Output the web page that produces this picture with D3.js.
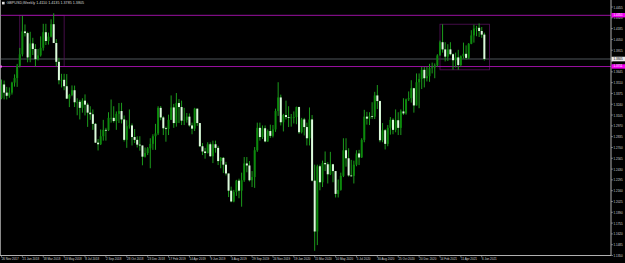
<!DOCTYPE html>
<html><head><meta charset="utf-8">
<script src="https://cdn.jsdelivr.net/npm/d3@7"></script>
<style>html,body{margin:0;padding:0;background:#000;overflow:hidden}</style>
</head><body>
<svg id="c" width="625" height="263"></svg>
<script>
const symbol = "GBPUSD,Weekly";
const firstWeek = "2017-11-26";
const opens = [
1.3320,1.3487,1.3385,1.3346,1.3385,1.3510,1.3567,1.3720,1.3864,1.4150,
1.4129,1.3825,1.4000,1.3930,1.3803,1.3850,1.3945,1.4140,1.4030,1.4085,
1.4240,1.4005,1.3770,1.3540,1.3545,1.3465,1.3310,1.3355,1.3415,1.3265,
1.3270,1.3195,1.3285,1.3235,1.3135,1.3115,1.2995,1.2760,1.2740,1.2840,
1.2920,1.2915,1.3070,1.3070,1.3030,1.3120,1.3155,1.3050,1.2795,1.2965,
1.2975,1.2830,1.2795,1.2735,1.2725,1.2585,1.2630,1.2690,1.2745,1.2840,
1.2875,1.3195,1.3075,1.2940,1.2930,1.3045,1.3200,1.3005,1.3255,1.3205,
1.3035,1.3045,1.3085,1.2975,1.2935,1.3185,1.3005,1.2715,1.2650,1.2630,
1.2740,1.2590,1.2740,1.2695,1.2530,1.2570,1.2485,1.2375,1.2160,1.2025,
1.2145,1.2285,1.2160,1.2290,1.2500,1.2475,1.2290,1.2330,1.2665,1.2945,
1.2830,1.2940,1.2775,1.2905,1.2845,1.2925,1.3155,1.3325,1.3015,1.3105,
1.3080,1.3070,1.3075,1.3080,1.3205,1.2890,1.3050,1.2955,1.2815,1.3050,
1.2285,1.1650,1.2465,1.2265,1.2505,1.2490,1.2365,1.2490,1.2405,1.2120,
1.2170,1.2345,1.2665,1.2565,1.2350,1.2345,1.2485,1.2625,1.2575,1.2795,
1.3085,1.3060,1.3090,1.3085,1.3350,1.3280,1.2790,1.2915,1.2745,1.2945,
1.3045,1.2920,1.3040,1.2945,1.3150,1.3125,1.3300,1.3315,1.3440,1.3225,
1.3515,1.3555,1.3670,1.3565,1.3590,1.3690,1.3700,1.3725,1.3850,1.4015,
1.3925,1.3835,1.3925,1.3865,1.3790,1.3825,1.3730,1.3840,1.3870,1.3820,
1.3995,1.4100,1.4185,1.4195,1.4155,1.4110];
const highs = [
1.3549,1.3536,1.3457,1.3450,1.3521,1.3613,1.3744,1.3944,1.4345,1.4237,
1.4145,1.4145,1.4070,1.3990,1.3930,1.4088,1.4245,1.4245,1.4135,1.4301,
1.4377,1.4055,1.3820,1.3620,1.3620,1.3617,1.3370,1.3475,1.3473,1.3315,
1.3295,1.3315,1.3363,1.3258,1.3215,1.3175,1.3005,1.2805,1.2925,1.3045,
1.2945,1.3140,1.3299,1.3215,1.3150,1.3255,1.3258,1.3100,1.3040,1.3175,
1.3000,1.2930,1.2840,1.2840,1.2725,1.2700,1.2705,1.2815,1.2865,1.2995,
1.3215,1.3218,1.3090,1.2960,1.3110,1.3350,1.3245,1.3380,1.3305,1.3285,
1.3195,1.3130,1.3125,1.3010,1.3195,1.3185,1.3005,1.2755,1.2695,1.2765,
1.2763,1.2785,1.2785,1.2720,1.2580,1.2580,1.2520,1.2375,1.2210,1.2170,
1.2295,1.2310,1.2385,1.2580,1.2580,1.2530,1.2405,1.2705,1.3010,1.3010,
1.2975,1.2975,1.2925,1.2985,1.2980,1.3185,1.3515,1.3360,1.3120,1.3285,
1.3215,1.3118,1.3150,1.3210,1.3210,1.3070,1.3070,1.3010,1.3200,1.3105,
1.2485,1.2485,1.2485,1.2535,1.2650,1.2515,1.2645,1.2495,1.2405,1.2300,
1.2385,1.2815,1.2815,1.2690,1.2545,1.2535,1.2665,1.2670,1.2815,1.3170,
1.3145,1.3140,1.3265,1.3395,1.3480,1.3285,1.3005,1.2930,1.2980,1.3080,
1.3065,1.3175,1.3140,1.3175,1.3315,1.3310,1.3400,1.3540,1.3445,1.3625,
1.3625,1.3705,1.3705,1.3710,1.3745,1.3760,1.3750,1.3865,1.4035,1.4240,
1.4015,1.3990,1.4015,1.3875,1.3885,1.3920,1.3850,1.4010,1.3975,1.4005,
1.4165,1.4235,1.4220,1.4250,1.4205,1.4135];
const lows = [
1.3302,1.3300,1.3300,1.3321,1.3360,1.3460,1.3457,1.3700,1.3838,1.4087,
1.3764,1.3765,1.3855,1.3711,1.3787,1.3835,1.3910,1.3980,1.3985,1.4075,
1.4011,1.3710,1.3489,1.3450,1.3415,1.3305,1.3204,1.3340,1.3205,1.3102,
1.3050,1.3135,1.3100,1.2957,1.3045,1.2920,1.2755,1.2662,1.2730,1.2785,
1.2785,1.2905,1.3010,1.3010,1.2920,1.3005,1.3000,1.2775,1.2695,1.2935,
1.2725,1.2755,1.2700,1.2660,1.2477,1.2575,1.2605,1.2440,1.2670,1.2670,
1.2855,1.3040,1.2855,1.2772,1.2855,1.3045,1.2945,1.2960,1.3005,1.2980,
1.2980,1.3010,1.2960,1.2865,1.2905,1.2970,1.2705,1.2605,1.2560,1.2625,
1.2585,1.2505,1.2635,1.2480,1.2440,1.2380,1.2350,1.2080,1.2015,1.2015,
1.2095,1.2065,1.1960,1.2270,1.2390,1.2275,1.2205,1.2195,1.2645,1.2785,
1.2805,1.2765,1.2770,1.2820,1.2825,1.2895,1.3095,1.2975,1.2900,1.3050,
1.2955,1.2960,1.3000,1.2990,1.2870,1.2875,1.2850,1.2725,1.2725,1.2275,
1.1409,1.1480,1.2165,1.2205,1.2405,1.2250,1.2355,1.2265,1.2075,1.2075,
1.2160,1.2330,1.2460,1.2335,1.2335,1.2250,1.2465,1.2480,1.2570,1.2765,
1.2985,1.2980,1.3055,1.3055,1.3180,1.2765,1.2765,1.2675,1.2715,1.2860,
1.2865,1.2890,1.2855,1.2855,1.3105,1.3110,1.3280,1.3260,1.3135,1.3225,
1.3190,1.3430,1.3450,1.3525,1.3520,1.3625,1.3565,1.3710,1.3850,1.3885,
1.3775,1.3780,1.3850,1.3670,1.3700,1.3670,1.3710,1.3810,1.3800,1.3805,
1.3990,1.4010,1.4090,1.4080,1.4070,1.3785];
const closes = [
1.3487,1.3385,1.3346,1.3385,1.3510,1.3567,1.3720,1.3864,1.4150,1.4129,
1.3825,1.4000,1.3930,1.3803,1.3850,1.3945,1.4140,1.4030,1.4085,1.4240,
1.4005,1.3770,1.3540,1.3545,1.3465,1.3310,1.3355,1.3415,1.3265,1.3270,
1.3195,1.3285,1.3235,1.3135,1.3115,1.2995,1.2760,1.2740,1.2840,1.2920,
1.2915,1.3070,1.3070,1.3030,1.3120,1.3155,1.3050,1.2795,1.2965,1.2975,
1.2830,1.2795,1.2735,1.2725,1.2585,1.2630,1.2690,1.2745,1.2840,1.2875,
1.3195,1.3075,1.2940,1.2930,1.3045,1.3200,1.3005,1.3255,1.3205,1.3035,
1.3045,1.3085,1.2975,1.2935,1.3185,1.3005,1.2715,1.2650,1.2630,1.2740,
1.2590,1.2740,1.2695,1.2530,1.2570,1.2485,1.2375,1.2160,1.2025,1.2145,
1.2285,1.2160,1.2290,1.2500,1.2475,1.2290,1.2330,1.2665,1.2945,1.2830,
1.2940,1.2775,1.2905,1.2845,1.2925,1.3155,1.3325,1.3015,1.3105,1.3080,
1.3070,1.3075,1.3080,1.3205,1.2890,1.3050,1.2955,1.2815,1.3050,1.2285,
1.1650,1.2465,1.2265,1.2505,1.2490,1.2365,1.2490,1.2405,1.2120,1.2170,
1.2345,1.2665,1.2565,1.2350,1.2345,1.2485,1.2625,1.2575,1.2795,1.3085,
1.3060,1.3090,1.3085,1.3350,1.3280,1.2790,1.2915,1.2745,1.2945,1.3045,
1.2920,1.3040,1.2945,1.3150,1.3125,1.3300,1.3315,1.3440,1.3225,1.3515,
1.3555,1.3670,1.3565,1.3590,1.3690,1.3700,1.3725,1.3850,1.4015,1.3925,
1.3835,1.3925,1.3865,1.3790,1.3825,1.3730,1.3840,1.3870,1.3820,1.3995,
1.4100,1.4185,1.4195,1.4155,1.4110,1.3805];

const priceTicks = [1.4455,1.4320,1.4185,1.4050,1.3915,1.3780,1.3645,1.3510,1.3375,1.3240,
1.3105,1.2970,1.2835,1.2700,1.2565,1.2430,1.2295,1.2160,1.2025,1.1890,1.1755,1.1620,1.1485,1.1350];
const dateLabels = ["26 Nov 2017","21 Jan 2018","18 Mar 2018","13 May 2018","8 Jul 2018","2 Sep 2018",
"28 Oct 2018","23 Dec 2018","17 Feb 2019","14 Apr 2019","9 Jun 2019","4 Aug 2019","29 Sep 2019",
"24 Nov 2019","19 Jan 2020","15 Mar 2020","10 May 2020","5 Jul 2020","30 Aug 2020","25 Oct 2020",
"20 Dec 2020","14 Feb 2021","11 Apr 2021","6 Jun 2021"];
const dateLabelBars = [0,8,16,24,32,40,48,56,64,72,80,88,96,104,112,120,128,136,144,152,160,168,176,184];
const hLines = [1.4351, 1.3711];
const rects = [{from:7, to:24, top:1.4351, bottom:1.3711},{from:168, to:187, top:1.4240, bottom:1.3670}];

const svg = d3.select("#c");
const W = 625, H = 263;
const plotRight = 611, plotBottom = 255.5;
svg.append("rect").attr("width",W).attr("height",H).attr("fill","#000");

const x = d3.scaleLinear().domain([0, 234]).range([1.5, 1.5 + 234*2.61]);
const y = d3.scaleLinear().domain([1.1350, 1.4455]).range([255.5, 7]);

const font = "'Liberation Sans', Arial, sans-serif";
const fs = 3.0;
const g = svg.append("g");

// bid line
const last = closes.length - 1;
g.append("line").attr("x1",1).attr("x2",plotRight).attr("y1",y(closes[last])).attr("y2",y(closes[last]))
 .attr("stroke","#34383c").attr("stroke-width",1.6);

// rectangles
rects.forEach(r => {
  g.append("rect").attr("x",x(r.from)).attr("y",y(r.top)).attr("width",x(r.to)-x(r.from))
   .attr("height",y(r.bottom)-y(r.top)).attr("fill","none").attr("stroke","#55105a").attr("stroke-width",0.8);
});
// horizontal lines
hLines.forEach(v => {
  g.append("line").attr("x1",1).attr("x2",plotRight).attr("y1",y(v)).attr("y2",y(v))
   .attr("stroke","#9a10a0").attr("stroke-width",1);
});

// candles
const idx = d3.range(opens.length);
g.selectAll("line.wick").data(idx).join("line").attr("class","wick")
  .attr("x1",i=>x(i)).attr("x2",i=>x(i)).attr("y1",i=>y(highs[i])).attr("y2",i=>y(lows[i]))
  .attr("stroke","#1c9c1c").attr("stroke-width",1);
g.selectAll("rect.body").data(idx).join("rect").attr("class","body")
  .attr("x",i=>x(i)-1).attr("width",2)
  .attr("y",i=>Math.min(y(opens[i]),y(closes[i])))
  .attr("height",i=>Math.max(0.8,Math.abs(y(opens[i])-y(closes[i]))))
  .attr("fill",i=>closes[i]>=opens[i] ? "#0c8a0c" : "#dcfadc");

// borders
svg.append("line").attr("x1",0.5).attr("x2",0.5).attr("y1",0).attr("y2",plotBottom).attr("stroke","#8a8a8a");
svg.append("line").attr("x1",plotRight).attr("x2",plotRight).attr("y1",0).attr("y2",plotBottom).attr("stroke","#b0b0b0");
svg.append("line").attr("x1",0).attr("x2",plotRight).attr("y1",plotBottom).attr("y2",plotBottom).attr("stroke","#b0b0b0");

// price axis
const yAxis = svg.append("g");
const bidY = y(closes[last]);
priceTicks.forEach(v => {
  yAxis.append("line").attr("x1",plotRight).attr("x2",plotRight+2).attr("y1",y(v)).attr("y2",y(v)).attr("stroke","#b0b0b0").attr("stroke-width",0.6);
  if (Math.abs(y(v) - bidY) < 2.6) return; // hidden behind the bid label, as in the terminal
  yAxis.append("text").attr("x",plotRight+2.5).attr("y",y(v)+0.5).attr("dy","0.35em").attr("fill","#d0d0d0")
   .attr("font-family",font).attr("font-size",fs).text(d3.format(".4f")(v));
});
// line labels
hLines.forEach(v => {
  yAxis.append("rect").attr("x",plotRight+0.5).attr("y",y(v)-2.3).attr("width",14).attr("height",4.4).attr("fill","#f000f0");
  yAxis.append("text").attr("x",plotRight+2.5).attr("y",y(v)-0.4).attr("dy","0.35em").attr("fill","#ffffff")
   .attr("font-family",font).attr("font-size",fs).text(d3.format(".4f")(v));
});
yAxis.append("rect").attr("x",plotRight+0.5).attr("y",bidY-2.3).attr("width",14).attr("height",4.6).attr("fill","#e8e8e8");
yAxis.append("text").attr("x",plotRight+2.5).attr("y",bidY).attr("dy","0.35em").attr("fill","#000")
 .attr("font-family",font).attr("font-size",fs).text(d3.format(".4f")(closes[last]));
svg.append("rect").attr("x",0).attr("y",y(hLines[1])-1).attr("width",2).attr("height",2).attr("fill","#f060f0");

// time axis
dateLabels.forEach((t,k) => {
  const xx = x(dateLabelBars[k]);
  svg.append("line").attr("x1",xx).attr("x2",xx).attr("y1",plotBottom).attr("y2",plotBottom+2).attr("stroke","#b0b0b0").attr("stroke-width",0.6);
  svg.append("text").attr("x",xx+0.2).attr("y",259.3).attr("dy","0.35em").attr("fill","#d0d0d0")
   .attr("font-family",font).attr("font-size",3.0).text(t);
});

// title
svg.append("rect").attr("x",2).attr("y",1.8).attr("width",2.6).attr("height",2.6).attr("fill","#e0e0e0");
svg.append("text").attr("x",6.5).attr("y",3.2).attr("dy","0.35em").attr("fill","#d8d8d8")
 .attr("font-family",font).attr("font-size",3.7)
 .text(symbol + "  " + [opens[last],highs[last],lows[last],closes[last]].map(d3.format(".4f")).join(" "));
</script>
</body></html>
